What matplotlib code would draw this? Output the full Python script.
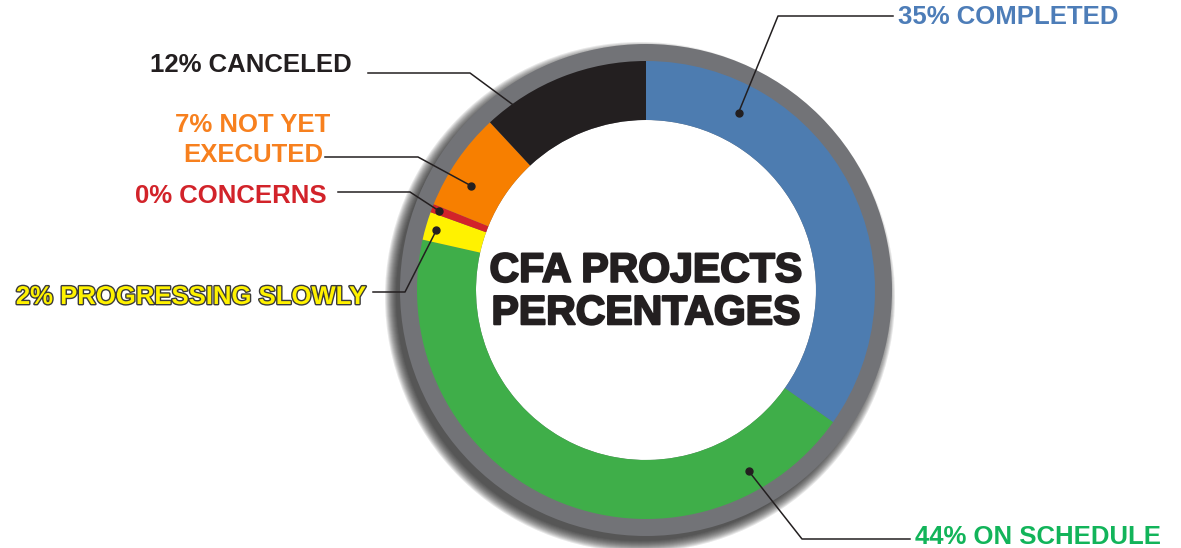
import numpy as np
import matplotlib.pyplot as plt
import matplotlib.patheffects as pe
from matplotlib.patches import Circle

plt.rcParams['font.family'] = ['Liberation Sans', 'DejaVu Sans']

# data
labels = ['35% COMPLETED', '44% ON SCHEDULE', '2% PROGRESSING SLOWLY',
          '0% CONCERNS', '7% NOT YET\nEXECUTED', '12% CANCELED']
values = [35, 44, 2, 0.6, 7, 12]
slice_colors = ['#4d7cb0', '#3fae49', '#fff200', '#d2232a', '#f77f00', '#231f20']
text_colors = ['#4d7db8', '#12b45a', '#fff200', '#d2232a', '#f7801e', '#231f20']

W, H = 1181, 548
cx, cy = 646, 290


def P(x, y):
    # pixel position -> data coords (y up)
    return x, H - y


fig = plt.figure(figsize=(W / 100, H / 100), dpi=100)
ax = fig.add_axes([0, 0, 1, 1])

# soft shadow behind the grey ring
for k in range(12):
    ax.add_patch(Circle(P(cx - 6, cy + 7), 244 + k, color='#1a1a1a',
                        alpha=0.1, lw=0, zorder=1))
ax.add_patch(Circle(P(cx, cy), 246, color='#727377', lw=0, zorder=2))
ax.add_patch(Circle(P(cx, cy), 170, color='white', lw=0, zorder=2))

wedges, _ = ax.pie(values, colors=slice_colors, radius=229, center=P(cx, cy),
                   startangle=90, counterclock=False,
                   wedgeprops=dict(width=59, linewidth=0))
for w in wedges:
    w.set_zorder(3)

# leader layout: fraction along wedge, radius of dot, elbow, end, text anchor
leaders = [
    dict(frac=0.22, r=200, elbow=(778, 16), end=(893, 16), text=(898, 17), ha='left'),
    dict(frac=0.16, r=208, elbow=(802, 539), end=(910, 539), text=(915, 537), ha='left'),
    dict(frac=0.45, r=218, elbow=(405, 292), end=(373, 292), text=(367, 297), ha='right'),
    dict(frac=0.5, r=222, elbow=(410, 192), end=(338, 192), text=(327, 196), ha='right'),
    dict(frac=0.35, r=204, elbow=(418, 157), end=(325, 157), text=(253, 140), ha='center'),
    dict(frac=0.23, r=200, elbow=(470, 73), end=(368, 73), text=(352, 65), ha='right'),
]

for i, (w, lab, lay) in enumerate(zip(wedges, labels, leaders)):
    t1, t2 = w.theta1, w.theta2
    ang = np.deg2rad(t2 - lay['frac'] * (t2 - t1))
    dx = cx + lay['r'] * np.cos(ang)
    dy = H - cy + lay['r'] * np.sin(ang)
    ex, ey = P(*lay['elbow'])
    fx, fy = P(*lay['end'])
    ax.plot([dx, ex, fx], [dy, ey, fy], color='#231f20', lw=1.1, zorder=5)
    ax.plot(dx, dy, 'o', color='#231f20', ms=5, zorder=6)

    tx, ty = P(*lay['text'])
    t = ax.text(tx, ty, lab, ha=lay['ha'], va='center', fontsize=18.5,
                fontweight='bold', color=text_colors[i], linespacing=1.3,
                zorder=7)
    if i == 2:
        t.set_path_effects([pe.withStroke(linewidth=2, foreground='#3a3a3a')])

ax.text(*P(cx, 292), 'CFA PROJECTS\nPERCENTAGES', ha='center', va='center',
        fontsize=29.5, fontweight='bold', color='#231f20', linespacing=1.15,
        zorder=8, path_effects=[pe.withStroke(linewidth=1.5, foreground='#231f20')])

ax.set_xlim(0, W)
ax.set_ylim(0, H)
ax.set_aspect('equal')
ax.axis('off')

fig.savefig('out.png', dpi=100, facecolor='white')
